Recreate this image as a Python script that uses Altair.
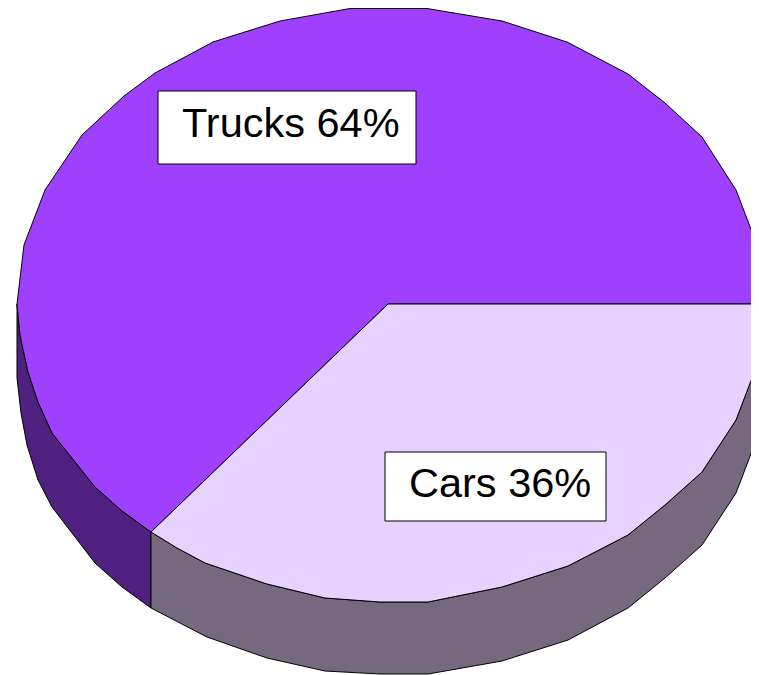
import altair as alt
import pandas as pd

# Categories and shares
categories = ["Trucks", "Cars"]
shares = [64, 36]

# Picture-read outline vertices (the pie is a faceted polygon)
trucks_x = [151, 122, 95, 52, 38, 28, 20, 17, 24, 45, 82, 124, 155, 213, 280, 350, 427, 502, 567, 628, 665, 702, 736, 757, 759, 388, 151]
trucks_y = [532, 511, 487, 433, 402, 372, 335, 304, 245, 190, 135, 96, 73, 42, 21, 8.5, 8.5, 21, 42, 74, 103, 137, 190, 245, 304, 304, 532]

cars_x = [388, 759, 757, 736, 702, 665, 628, 568, 502, 428, 380, 325, 267, 205, 177, 151, 388]
cars_y = [304, 304, 365, 420, 472, 505, 535, 566, 587, 602, 602, 598, 584, 563, 548, 532, 304]

dark_wall_x = [151, 122, 95, 52, 38, 28, 20, 17, 17, 21, 27, 38, 52, 95, 122, 151, 151]
dark_wall_y = [532, 511, 487, 433, 402, 372, 335, 304, 378, 413, 445, 480, 507, 563, 587, 608, 532]

gray_wall_x = [151, 177, 205, 267, 325, 380, 428, 502, 568, 628, 665, 702, 736, 757, 759, 759, 757, 736, 702, 665, 628, 568, 502, 428, 380, 325, 267, 207, 151, 151]
gray_wall_y = [532, 548, 563, 584, 598, 602, 602, 587, 566, 535, 505, 472, 420, 365, 304, 415, 438, 493, 545, 578, 608, 640, 661, 674, 674, 671, 658, 637, 608, 532]

# Label boxes
box_x = [158, 385]
box_x2 = [416, 606]
box_y = [91, 452]
box_y2 = [164, 521]
label_x = [182, 409]
label_y = [137, 497]

# Colours
top_colors = ["#9F40FF", "#E6D1FF"]
wall_colors = ["#4F207F", "#76697F"]

x_scale = alt.Scale(domain=[8, 751], nice=False, zero=False)
y_scale = alt.Scale(domain=[675, 8], nice=False, zero=False)
X = lambda f: alt.X(f, type="quantitative", scale=x_scale, axis=None)
Y = lambda f: alt.Y(f, type="quantitative", scale=y_scale, axis=None)


def polygon(xs, ys, colour):
    df = pd.DataFrame({"px": xs, "py": ys, "i": range(len(xs))})
    return (
        alt.Chart(df)
        .mark_line(fill=colour, stroke="#000000", strokeWidth=1, strokeJoin="miter", interpolate="linear", clip=False)
        .encode(x=X("px"), y=Y("py"), order=alt.Order("i", type="quantitative"))
    )


labels = pd.DataFrame(
    {
        "label": [f"{c} {s}%" for c, s in zip(categories, shares)],
        "bx": box_x,
        "bx2": box_x2,
        "by": box_y,
        "by2": box_y2,
        "lx": label_x,
        "ly": label_y,
    }
)

boxes = (
    alt.Chart(labels)
    .mark_rect(fill="#FFFFFF", stroke="#000000", strokeWidth=1)
    .encode(x=X("bx"), x2="bx2", y=Y("by"), y2="by2")
)
texts = (
    alt.Chart(labels)
    .mark_text(font="Liberation Sans", fontSize=41.5, align="left", baseline="alphabetic", color="#000000")
    .encode(x=X("lx"), y=Y("ly"), text="label:N")
)

chart = (
    alt.layer(
        polygon(dark_wall_x, dark_wall_y, wall_colors[0]),
        polygon(gray_wall_x, gray_wall_y, wall_colors[1]),
        polygon(trucks_x, trucks_y, top_colors[0]),
        polygon(cars_x, cars_y, top_colors[1]),
        boxes,
        texts,
    )
    .properties(width=743, height=667, padding=0, autosize=alt.AutoSizeParams(type="none"), background="#FFFFFF")
    .configure_view(stroke=None)
)

chart.save("out.html", embed_options={"renderer": "svg", "actions": False})
